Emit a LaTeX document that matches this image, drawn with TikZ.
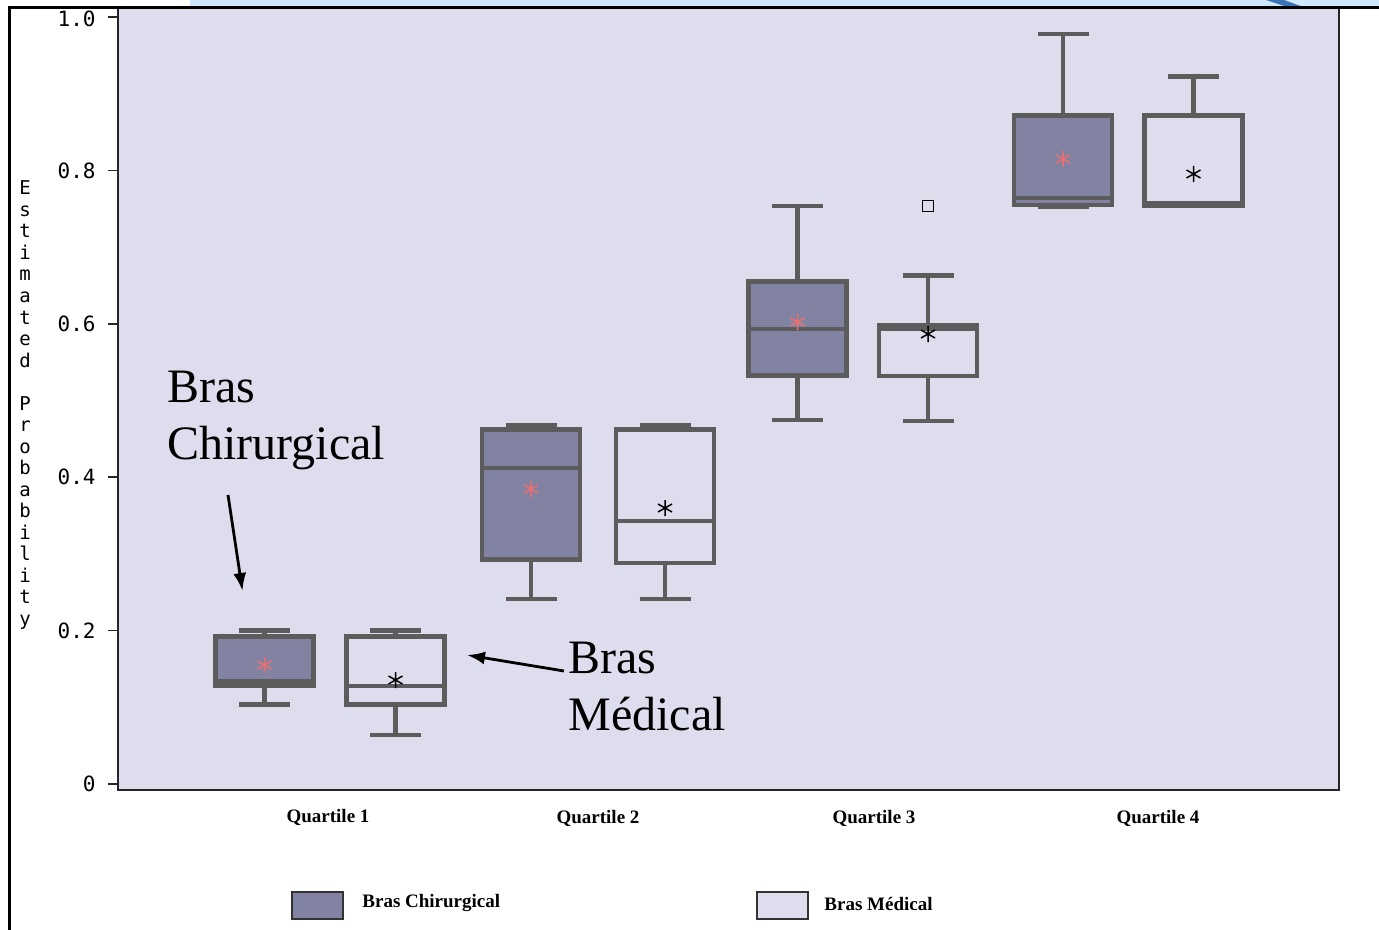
\documentclass[tikz,border=0pt]{standalone}
\usepackage{fontspec}
\setmainfont{Liberation Serif}
\newfontfamily\monof{DejaVu Sans Mono}
\usetikzlibrary{arrows.meta}
\definecolor{bg}{RGB}{222,221,237}
\definecolor{surg}{RGB}{130,130,162}
\definecolor{boxc}{RGB}{92,92,92}
\definecolor{meanred}{RGB}{240,110,110}
\definecolor{topblue}{RGB}{207,232,251}
\definecolor{deepblue}{RGB}{60,115,180}
\newcommand\mstar[3]{\draw[#3,line width=0.75pt] (#1,#2-8)--(#1,#2+8) (#1-7,#2-4)--(#1+7,#2+4) (#1-7,#2+4)--(#1+7,#2-4);}
% #1 x, #2 box top, #3 median, #4 box bottom, #5 upper cap, #6 lower cap, #7 fill, #8 mean y, #9 mean colour
\newcommand\bxplt[9]{%
  \draw[boxln] (#1,#2) -- (#1,#5) (#1-25.5,#5) -- (#1+25.5,#5);
  \draw[boxln] (#1,#4) -- (#1,#6) (#1-25.5,#6) -- (#1+25.5,#6);
  \draw[boxln,fill=#7] (#1-49,#2) rectangle (#1+49,#4);
  \draw[boxln] (#1-49,#3) -- (#1+49,#3);
  \mstar{#1}{#8}{#9}}
\begin{document}
\begin{tikzpicture}[x=0.5pt,y=-0.5pt,
  boxln/.style={draw=boxc,line width=2.25pt},
  axisln/.style={draw=black!85,line width=1pt},
  ticklab/.style={anchor=east,inner sep=0pt,font=\monof\fontsize{10.5}{11}\selectfont},
  ylet/.style={anchor=base,inner sep=0pt,font=\monof\fontsize{9.5}{10}\selectfont},
  qlab/.style={inner sep=0pt,font=\bfseries\fontsize{9.5}{11}\selectfont},
  leglab/.style={anchor=west,inner sep=0pt,font=\bfseries\fontsize{9.5}{11}\selectfont},
  annot/.style={anchor=base west,inner sep=0pt,font=\fontsize{24}{28.5}\selectfont},
  swatch/.style={draw=black!80,line width=0.8pt},
  annarrow/.style={-{Latex[length=9pt,width=6.5pt]},line width=1.4pt,black}]
\useasboundingbox (0,0) rectangle (1379,930);
\fill[white] (0,0) rectangle (1379,930);
% slide decoration at the top
\fill[topblue] (190,0) rectangle (1379,8);
\fill[deepblue] (1266,0) -- (1284,0) -- (1306,8) -- (1290,8) -- cycle;
% plot area
\fill[bg] (118,8) rectangle (1339,790);
\draw[axisln] (118,8) -- (118,790) -- (1339,790) -- (1339,8);
% slide frame
\draw[black,line width=1.5pt] (9,930) -- (9,8) -- (1379,8);
% y ticks
\foreach \v/\l/\dy [count=\k] in {0/0/0,0.2/0.2/0,0.4/0.4/0,0.6/0.6/0,0.8/0.8/0,1/1.0/2}{
  \draw[black!85,line width=0.8pt] (108,784-767*\v) -- (118,784-767*\v);
  \node[ticklab] (tick\k) at (96,784-767*\v+\dy) {\l};
}
% y axis title
\foreach \c [count=\i from 0] in {E,s,t,i,m,a,t,e,d}
  \node[ylet] (ya\i) at (25,195+\i*21.5) {\c};
\foreach \c [count=\i from 10] in {P,r,o,b,a,b,i,l,i,t,y}
  \node[ylet] (yb\i) at (25,195+\i*21.5) {\c};
% boxes
\bxplt{264.5}{636.5}{681.5}{685.5}{630.5}{704.5}{surg}{665}{meanred}
\bxplt{395.5}{636.5}{686}{704.5}{630.5}{735}{bg}{680}{black}
\bxplt{531}{429.5}{468}{559.5}{425}{599}{surg}{489}{meanred}
\bxplt{665}{429.5}{521}{563}{425}{599}{bg}{508}{black}
\bxplt{797.5}{281.5}{329}{375.5}{206}{420}{surg}{322}{meanred}
\bxplt{928}{325.5}{329}{376}{275.5}{421}{bg}{334}{black}
\bxplt{1063}{115.5}{198}{205}{34}{206.5}{surg}{159}{meanred}
\bxplt{1193.5}{115.5}{203}{205.5}{76.5}{206}{bg}{174}{black}
% outlier
\draw[black,line width=0.8pt] (922.5,200.5) rectangle (933.5,211.5);
% x labels
\node[qlab] (q1) at (328,817) {Quartile 1};
\node[qlab] (q2) at (598,818) {Quartile 2};
\node[qlab] (q3) at (874,818) {Quartile 3};
\node[qlab] (q4) at (1158,818) {Quartile 4};
% legend
\draw[swatch,fill=surg] (292,892) rectangle (343,919);
\node[leglab] (l1) at (362,903) {Bras Chirurgical};
\draw[swatch,fill=bg] (757,892) rectangle (808,919);
\node[leglab] (l2) at (824,904) {Bras Médical};
% annotations
\node[annot] (c1) at (167,402) {Bras};
\node[annot] (c2) at (167,459) {Chirurgical};
\node[annot] (m1) at (568,673) {Bras};
\node[annot] (m2) at (568,730) {Médical};
\coordinate (a1s) at (228,495);
\coordinate (a1e) at (242.5,591);
\coordinate (a2s) at (564,671);
\coordinate (a2e) at (467,655);
\draw[annarrow] (a1s) -- (a1e);
\draw[annarrow] (a2s) -- (a2e);
\end{tikzpicture}
\end{document}
